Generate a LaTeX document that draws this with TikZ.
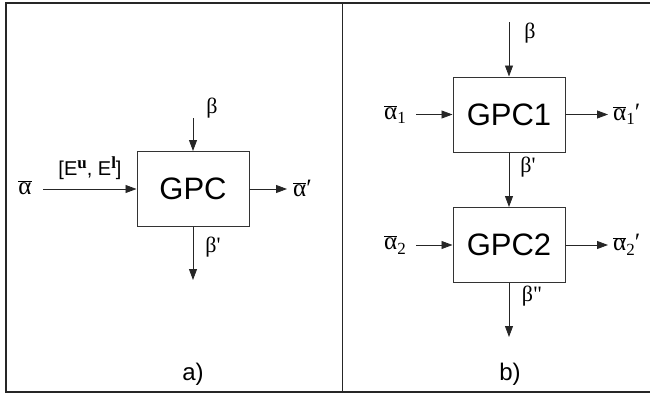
\documentclass[tikz,border=0pt]{standalone}
\usepackage{fontspec}
\setmainfont{Liberation Sans}
\newfontfamily\grk{Liberation Serif}
\usetikzlibrary{arrows.meta}
\newcommand{\abar}{\ensuremath{\overline{\hbox{\grk α}}}}
\newcommand{\subone}[1]{\raisebox{-0.4ex}{\fontsize{17}{17}\selectfont #1}}
\newcommand{\supb}[1]{\raisebox{0.7ex}{\grk\bfseries\fontsize{17}{17}\selectfont #1}}
\begin{document}
\begin{tikzpicture}[x=1pt,y=-1pt,
  box/.style={draw=black!80, line width=1pt, minimum width=112pt, minimum height=75pt, inner sep=0pt, font=\fontsize{31}{31}\selectfont},
  arr/.style={-{Triangle[length=11pt,width=8pt]}, line width=0.8pt, draw=black!85, fill=black},
  lbl/.style={inner sep=0pt, font=\grk\fontsize{22}{22}\selectfont},
  albl/.style={inner sep=0pt, font=\grk\fontsize{25}{25}\selectfont},
  sans/.style={inner sep=0pt, font=\fontsize{20}{20}\selectfont},
  caplbl/.style={inner sep=0pt, font=\fontsize{24}{24}\selectfont},
  frame/.style={line width=1.5pt, draw=black!85}]
\useasboundingbox (0,0) rectangle (650,394);
\coordinate (ftr) at (650,3);
\coordinate (ftl) at (6,3);
\coordinate (fbl) at (6,392);
\coordinate (fbr) at (650,392);
\coordinate (dt) at (342,3);
\coordinate (db) at (342,392);
\draw[frame] (ftr) -- (ftl) -- (fbl) -- (fbr);
\draw[frame, line width=1pt] (dt) -- (db);

% ---- panel a
\node[box] (g) at (193,189) {GPC};
\coordinate (gt) at (193,118);
\coordinate (gbo) at (193,280);
\coordinate (gle) at (43,189);
\coordinate (gri) at (287,189);
\draw[arr] (gt) -- (g.north);
\draw[arr] (g.south) -- (gbo);
\draw[arr] (gle) -- (g.west);
\draw[arr] (g.east) -- (gri);
\node[lbl] (gbeta) at (212,108) {β};
\node[lbl] (gbetap) at (213,247) {β'};
\node[albl] (galpha) at (25,188) {\abar};
\node[albl, anchor=west] (galphap) at (293,188) {\abar′};
\node[sans] (ge) at (90,168) {[E\supb{u}, E\supb{l}]};
\node[caplbl] (la) at (193,374) {a)};

% ---- panel b
\node[box] (g1) at (509,114.5) {GPC1};
\node[box] (g2) at (509,245) {GPC2};
\coordinate (g1t) at (509,22);
\coordinate (g2bo) at (509,337);
\coordinate (g1le) at (416,114.5);
\coordinate (g2le) at (416,245);
\coordinate (g1ri) at (608,114.5);
\coordinate (g2ri) at (608,245);
\draw[arr] (g1t) -- (g1.north);
\draw[arr] (g1.south) -- (g2.north);
\draw[arr] (g2.south) -- (g2bo);
\draw[arr] (g1le) -- (g1.west);
\draw[arr] (g2le) -- (g2.west);
\draw[arr] (g1.east) -- (g1ri);
\draw[arr] (g2.east) -- (g2ri);
\node[lbl] (b1beta) at (530,33) {β};
\node[lbl] (b1betap) at (528,167) {β'};
\node[lbl] (b2betapp) at (532,296) {β"};
\node[albl, anchor=east] (a1) at (406,114.5) {\abar\subone{1}};
\node[albl, anchor=east] (a2) at (406,245) {\abar\subone{2}};
\node[albl, anchor=west] (a1p) at (613,114.5) {\abar\subone{1}′};
\node[albl, anchor=west] (a2p) at (613,245) {\abar\subone{2}′};
\node[caplbl] (lb) at (510,374) {b)};
\end{tikzpicture}
\end{document}
